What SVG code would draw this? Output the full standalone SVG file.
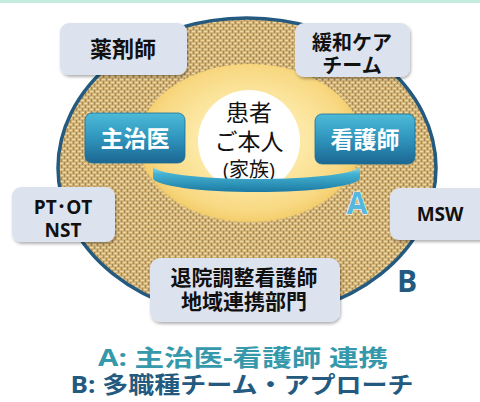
<svg xmlns="http://www.w3.org/2000/svg" width="480" height="402" viewBox="0 0 480 402">
<defs>
<style>
text{font-family:"Open Sans","Noto Sans CJK JP",sans-serif;text-anchor:middle}
.lbl{font-weight:700;fill:#111;font-size:20px}
.wb{font-weight:700;fill:#fff;font-size:23px}
.ctr{font-weight:400;fill:#111;font-size:23px}
.box{fill:#dde3ee;filter:url(#sh)}
.inner{stroke:#1e6f93;stroke-width:0.8}
</style>
<pattern id="burlap" width="6" height="6" patternUnits="userSpaceOnUse">
<rect width="6" height="6" fill="#cdac70"/>
<path d="M0 1.5h3.2M3 4.5h3.2" stroke="#ecd9a6" stroke-width="1.4"/>
<path d="M4.5 0v3M1.5 3v3" stroke="#a07f48" stroke-width="0.8"/>
</pattern>
<radialGradient id="glow" cx="0.5" cy="0.45" r="0.55">
<stop offset="0" stop-color="#fff3c8"/>
<stop offset="0.45" stop-color="#fce8a4"/>
<stop offset="0.78" stop-color="#f8d882"/>
<stop offset="0.88" stop-color="#f4cf6e"/>
<stop offset="0.91" stop-color="#f2cc70" stop-opacity="0"/>
</radialGradient>
<linearGradient id="blueBox" x1="0" y1="0" x2="0" y2="1">
<stop offset="0" stop-color="#4dbad8"/>
<stop offset="0.5" stop-color="#2f95bd"/>
<stop offset="1" stop-color="#1b6792"/>
</linearGradient>
<linearGradient id="ring" x1="0" y1="0" x2="0" y2="1">
<stop offset="0" stop-color="#9fe0f0"/>
<stop offset="0.3" stop-color="#45b3d4"/>
<stop offset="1" stop-color="#1c7aa2"/>
</linearGradient>
<filter id="sh" x="-10%" y="-10%" width="125%" height="130%">
<feDropShadow dx="1" dy="2" stdDeviation="1.5" flood-color="#000" flood-opacity="0.3"/>
</filter>
</defs>
<rect width="480" height="402" fill="#fff"/>
<rect width="480" height="3" fill="#c5ebe0"/>

<g id="circleB">
<ellipse cx="247" cy="168" rx="189" ry="150" fill="url(#burlap)" stroke="#245a80" stroke-width="3.5"/>
</g>
<g id="glowA">
<ellipse cx="250" cy="148" rx="114" ry="84" fill="url(#glow)"/>
</g>

<g id="patient">
<circle cx="249" cy="141" r="51" fill="#fff"/>
<text class="ctr" x="249" y="121">患者</text>
<text class="ctr" x="249" y="150">ご本人</text>
<text class="ctr" x="249" y="177" style="font-size:20px">(家族)</text>
</g>

<g id="connectors">
<path d="M153,166 A103.5,13 0 0 0 360,166 L360,178 A103.5,14 0 0 1 153,178 Z" fill="url(#ring)"/>
</g>

<g id="doctor">
<rect class="inner" x="85" y="113" width="100" height="50" rx="7" fill="url(#blueBox)"/>
<text class="wb" x="135" y="147">主治医</text>
</g>
<g id="nurse">
<rect class="inner" x="315" y="114" width="100" height="50" rx="7" fill="url(#blueBox)"/>
<text class="wb" x="365" y="148">看護師</text>
</g>

<g id="pharmacist">
<rect class="box" x="60" y="23" width="127" height="52" rx="9"/>
<text class="lbl" x="123" y="57" style="font-size:22px">薬剤師</text>
</g>
<g id="palliative">
<rect class="box" x="295" y="23" width="115" height="54" rx="9"/>
<text class="lbl" x="352" y="50">緩和ケア</text>
<text class="lbl" x="352" y="73">チーム</text>
</g>
<g id="ptot">
<rect class="box" x="12" y="187" width="103" height="55" rx="9"/>
<text class="lbl" x="63" y="214" style="font-size:19px">PT･OT</text>
<text class="lbl" x="63" y="237" style="font-size:19px">NST</text>
</g>
<g id="msw">
<rect class="box" x="390" y="188" width="100" height="52" rx="9"/>
<text class="lbl" x="440" y="221" style="font-size:19px">MSW</text>
</g>
<g id="discharge">
<rect class="box" x="150" y="258" width="190" height="64" rx="10"/>
<text class="lbl" x="244" y="285" style="font-size:21px">退院調整看護師</text>
<text class="lbl" x="244" y="309" style="font-size:21px">地域連携部門</text>
</g>

<g id="labels">
<text x="357" y="214" style="font-size:30px;font-weight:700;fill:#56b8de;stroke:#fff;stroke-width:1.2;paint-order:stroke">A</text>
<text x="407" y="292" style="font-size:30px;font-weight:700;fill:#245a80">B</text>
</g>

<g id="caption">
<text x="243" y="366" textLength="290" lengthAdjust="spacingAndGlyphs" style="font-size:23px;font-weight:700;fill:#3598ab">A: 主治医-看護師 連携</text>
<text x="242" y="393" textLength="343" lengthAdjust="spacingAndGlyphs" style="font-size:23px;font-weight:700;fill:#245a80">B: 多職種チーム・アプローチ</text>
</g>
</svg>
